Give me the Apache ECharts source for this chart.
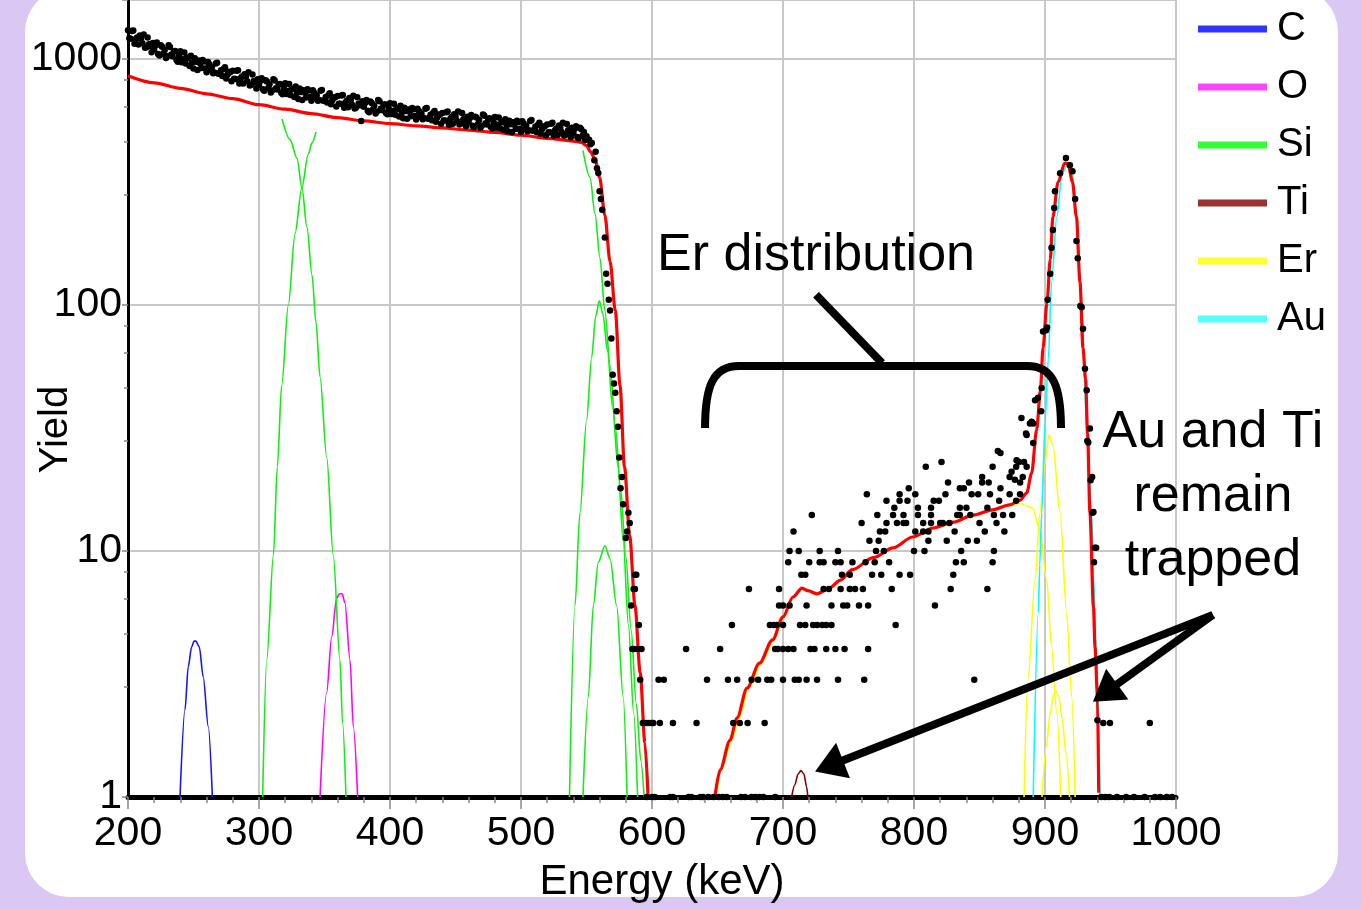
<!DOCTYPE html>
<html>
<head>
<meta charset="utf-8">
<script src="https://cdn.jsdelivr.net/npm/echarts@6/dist/echarts.min.js"></script>
<style>
html,body{margin:0;padding:0;background:#dac7f3;}
#chart{width:1361px;height:909px;}
</style>
</head>
<body>
<div id="chart"></div>
<script>
// ---------------- DATA ----------------
// experimental spectrum, dense part: counts every 2 keV from 200 keV (even channels)
const bulkStartE = 200;
const bulkStepE = 2;
const bulkYield = [
  1310,1209,1306,1206,1144,1214,1258,1116,1148,1066,
  1098,1166,1033,1122,1089,1025,1120,1026,1077,975,
  1076,997,958,1010,1030,915,974,985,919,977,
  884,951,925,882,965,877,852,925,865,884,
  895,829,900,835,795,848,883,786,813,759,
  784,835,743,810,789,745,817,751,792,719,
  797,741,714,755,773,688,735,746,698,745,
  676,730,713,681,748,682,665,725,679,697,
  707,657,714,665,636,679,709,634,658,560,
  639,681,607,662,647,612,673,619,654,596,
  661,615,594,628,645,574,614,624,585,625,
  568,614,600,575,632,577,564,614,578,594,
  603,562,612,570,545,584,612,547,569,533,
  555,592,528,578,565,535,588,542,574,523,
  581,541,523,554,569,508,543,553,519,554,
  505,547,535,513,565,516,504,550,518,532,
  542,504,550,513,491,526,551,493,513,481,
  501,533,476,518,505
];
// odd channels, every 2 keV from 201 keV
const bulkOddStartE = 201;
const bulkYieldOdd = [
  1215,1301,1152,1223,1245,1159,1111,1224,1130,1161,
  1137,1049,1138,1051,1009,1136,1041,1072,990,1030,
  971,1062,1014,936,967,1007,902,961,990,915,
  972,901,876,959,871,900,911,833,887,812,
  832,895,795,848,867,811,781,865,802,828,
  814,753,820,760,731,828,761,787,729,762,
  720,791,757,701,727,759,682,729,754,700,
  746,693,676,743,677,701,712,654,699,641,
  658,710,633,677,694,652,629,699,649,674,
  663,616,671,623,601,682,628,650,603,631,
  597,657,630,584,606,634,571,610,632,587,
  627,583,569,628,572,594,604,556,595,546,
  562,607,541,581,596,561,542,603,562,583,
  576,535,583,543,525,595,548,569,529,554,
  525,578,555,515,536,561,505,541,561,521,
  558,519,508,560,511,531,540,497,532,490,
  504,545,487,522,537,505,488,544,507,526,
  520,482,525,487,469
];
// experimental spectrum, sparse part: [energy keV, counts]
const expPoints = [
  [550,485],[552,470],[553,450],[554,455],[556,388],[557,420],[558,360],[559,344],[560,290],[561,270],
  [562,244],[564,188],[565,134],[566,122],[567,105],[568,95],[569,73],[570,52],[571,48],[572,44],
  [573,37],[574,32],[575,24],[576,18],[577,20],[578,15.5],[580,11.3],[581,12],[582,14.3],[583,13],
  [584,6],[585,4],[586,7],[586,4],[587,7],[587,8],[588,8],[589,4],[590,5],[591,3],[592,4],[593,2],
  [594,2],[596,2],[598,2],[601,2],
  [596,1],[600,1],[602,1],[614,1],[616,1],[628,1],[630,1],[637,1],[639,1],[643,1],[647,1],[651,1],
  [654,1],[657,1],[668,1],[671,1],[676,1],[679,1],[682,1],[685,1],[694,1],
  [943,1],[946,1],[949,1],[955,1],[962,1],[968,1],[976,1],[984,1],[988,1],[993,1],[997,1],
  [600,2],[606,2],[616,2],[634,2],[662,2],[667,2],[673,2],[686,2],[944.5,2],[949.6,2],[980,2],
  [605,3],[609,3],[642,3],[658,3],[665,3],[676,3],[681,3],[688,3],[691,3],[700,3],[709,3],[712,3],
  [718,3],[726,3],[742,3],[762,3],[846,3],
  [626,4],[652,4],[694,4],[696,4],[700,4],[704,4],[708,4],[721,4],[724,4],[733,4],[740,4],[747,4],[765,4],
  [661,5],[690,5],[693,5],[695,5],[700,5],[713,5],[717,5],[723,5],[726,5],[730,5],[733,5],[737,5],[786,5],
  [697,6],[700,6],[705,6],[718,6],[737,6],[746,6],[749,6],[758,6],[765,6],[816,6],
  [674,7],[697,7],[731,7],[735,7],[744,7],[751,7],[755,7],[761,7],[783,7],[828,7],[856,7],
  [714,8],[717,8],[745,8],[751,8],[768,8],[775,8],[789,8],[797,8],[830,8],
  [704,9],[720,9],[728,9],[731,9],[740,9],[744,9],[753,9],[763,9],[770,9],[781,9],[832,9],[838,9],[860,9],
  [705,10],[712,10],[728,10],[742,10],[771,10],[777,10],[800,10],[808,10],[836,10],[861,10],
  [766,11],[773,11],[811,11],[825,11],[841,11],[848,11],
  [708,12],[774,12],[778,12],[801,12],[807,12],[811,12],[831,12],[854,12],[869,12],
  [760,13],[779,13],[787,13],[792,13],[794,13],[807,13],[813,13],[820,13],[822,13],[827,13],[850,13],[863,13],
  [722,14],[772,14],[784,14],[792,14],[803,14],[813,14],[833,14],[835,14],[843,14],[861,14],[868,14],[875,14],
  [785,15],[803,15],[813,15],[835,15],[840,15],[856,15],
  [779,16],[789,16],[795,16],[815,16],[819,16],[865,16],[878,16],
  [764,17],[789,17],[801,17],[824,17],[844,17],[849,17],[858,17],[873,17],[881,17],
  [796,18],[835,18],[838,18],[866,18],
  [826,19],[842,19],[852,19],[857,19],[881,19],
  [852,20],[873,20],[883,20],
  [809,22],[860,22],[878,22],[886,22],
  [821,23],[880,23],[884,23],
  [866,25],[864,25.5],
  [874.5,21],[877,19.5],[878.3,23.4],[882,34.7],[885.5,30],[886,29.6],[888.5,33],[889.8,33.5],
  [891,27.5],[891,33],[892.4,41],[894.7,42],[897,37],[897.4,46],
  [898.5,78],[900.8,79],[901.5,81],[902,105],[904,134],[905,171],[906,202],[907,248],[907.6,290],
  [911.5,343],[916,396],[919,370],[921,350],[923,270],[924,182],[925,155],[927,99],[928,98],[929,80],
  [930.5,55],[931.8,45],[932.3,28],[933,27.6],[934.3,31.5],[934.8,19.4],[936,20],[936.3,14.3],
  [937,14.4],[937.4,9],[938,10.3],[939,10.3],[940,2.05]
];
// simulated total spectrum (red)
const simMatrix = [
  [200,855],[220,800],[240,760],[260,722],[280,690],[300,652],[320,625],[340,600],[360,578],[380,560],
  [400,546],[420,535],[440,525],[460,514],[480,503],[500,490],[520,476],[540,464],[546,458],[550,445],
  [553,420],[556.5,392],[560,330],[564,232],[568,150],[572,95],[575.6,47],[579,22],[583,11.5],
  [587,6],[591,3.2],[594.6,1.66],[597,1]
];
const simErAu = [
  [648,1],[652,1.29],[659.5,1.7],[665,2.1],[672.5,2.77],[682,3.5],[692,4.35],[700,5.4],[707.6,6.5],
  [714.5,7.07],[719,6.9],[726,6.7],[736,7.1],[743.5,7.6],[753,8.4],[769,9.4],[784,10.3],[799,11.4],
  [814.5,12.4],[830,13.1],[845,14],[860,14.7],[873,15.4],[881,16.1],[886,17.2],[889.8,20.7],
  [893.6,31],[896.5,45],[898.5,67],[901.5,102],[904,153],[906,228],[910,316],[915,377],[917.5,376],
  [921,316],[924,228],[926.7,124],[929,67],[931,50],[932.5,30],[934.3,14.3],[937,5.9],[938.2,4.07],
  [940,2.6],[941,1.04]
];
// element contributions
const carbonC = [[239.7,1],[243.5,2.26],[246,3.39],[248.6,4.08],[250.5,4.3],[251.8,4.3],[254.4,4.08],[257.4,3.08],[261.3,1.93],[264.4,1]];
const oxygenO = [[346.6,1],[351.6,2.64],[355.5,4.48],[359.3,6.44],[361.5,6.7],[363.5,6.7],[365.6,6.15],[369.5,3.6],[372,1.93],[375.3,1]];
const siliconRise = [[302.8,1],[305.9,3.6],[311,9.6],[314,22],[317.3,47],[322.4,100],[327.5,195],[332.6,297],[337.6,410],[340.5,456],[343.5,505]];
const siliconFall = [[317.6,570],[323.7,470],[329,395],[332.8,299],[336.6,207],[340.5,132],[343.5,85],[346.6,51],[351.7,24],[356.7,9.6],[361.8,3.6],[363.8,2],[366.4,1]];
const siliconEdge = [[547.3,425],[552.7,330],[556.5,235],[560.3,155],[564,95],[568,57],[572,32],[576,18],[580,9.5],[584,4.8],[588,2.4],[591.5,1.4],[594,1]];
const siliconPeak = [[537,1],[541.2,6],[545,14.3],[550,33.7],[554,61.5],[557,90],[559.8,104],[562.5,92],[566,65],[570,38],[574,22],[578,11],[582,5],[586,2.2],[589,1]];
const siliconSmall = [[547.3,1],[551.4,2.55],[555.2,6],[559,9],[564.1,10.5],[568,9.3],[573,6],[578,2.55],[581,1]];
const titaniumTi = [[706.6,1],[709,1.12],[711.5,1.24],[713.7,1.28],[716,1.24],[718,1.1],[719,1]];
const erbiumDist = [
  [649,1],[653,1.29],[661,1.7],[666.5,2.1],[674,2.77],[683.5,3.5],[693,4.35],[701,5.4],[707.6,6.45],
  [714.5,7.0],[719,6.85],[726,6.65],[736,7.05],[743.5,7.55],[753,8.35],[769,9.35],[784,10.25],
  [799,11.35],[814.5,12.3],[830,13],[845,13.9],[860,14.6],[873,15.3],[881,15.6],[887,15.2],
  [890.6,14.9],[896,12.2],[901.3,7.6],[905,4.07],[909,2.19],[912,1]
];
const erbiumPeak = [[884,1],[887,3],[892.4,7.6],[896.2,14.3],[900,22.7],[903,29.6],[906,27],[911.5,14.3],[916.5,5.6],[920.4,2.55],[923,1]];
const erbiumSmall = [[897.7,1],[901,1.6],[904,2.2],[906.5,2.6],[908.4,2.7],[910.5,2.55],[913,2.1],[916,1.5],[918.7,1]];
const goldAu = [[891,1],[894.9,5.6],[896,8.8],[897.5,14.3],[900,33],[902.5,60],[905,124],[909,228],[913,343],[917,370],[920.6,358],[924,228],[928,102],[932,30],[935.6,14.3],[937,8],[939,4.07],[940.5,2.6],[942,1]];

const yTickValues = [1, 10, 100, 1000];
const yTickLabels = ['1', '10', '100', '1000'];
const legendNames = ['C', 'O', 'Si', 'Ti', 'Er', 'Au'];
const legendColors = ['#3333ff', '#ff44ff', '#33ff33', '#993333', '#ffff33', '#55ffff'];
const lineColors = {C: '#1414ff', O: '#ff00ff', Si: '#11ee11', Ti: '#800000', Er: '#ffff00', Au: '#00ffff'};

// ---------------- CHART ----------------
const FONT = 'Liberation Sans, Arial, Helvetica, sans-serif';
const chart = echarts.init(document.getElementById('chart'), null, {renderer: 'canvas'});

const expData = bulkYield.map((v, i) => [bulkStartE + i * bulkStepE, v])
  .concat(bulkYieldOdd.map((v, i) => [bulkOddStartE + i * bulkStepE, v]))
  .concat(expPoints);

function elemSeries(name, data) {
  return {
    type: 'line', name: name, data: data, symbol: 'none', showSymbol: false,
    smooth: 0.3, smoothMonotone: 'x', animation: false, silent: true, z: 3,
    lineStyle: {color: lineColors[name], width: 1.6},
    itemStyle: {color: lineColors[name]}
  };
}

const option = {
  animation: false,
  backgroundColor: '#dac7f3',
  textStyle: {fontFamily: FONT},
  grid: {left: 128, right: 185, top: 0, bottom: 112, containLabel: false, outerBoundsMode: 'none'},
  legend: {
    orient: 'vertical', left: 1193, top: 2, icon: 'rect',
    itemWidth: 69, itemHeight: 7, itemGap: 14, selectedMode: false,
    textStyle: {fontSize: 40, color: '#000', fontFamily: FONT, lineHeight: 44, padding: [0, 0, 0, 5]},
    data: legendNames.map((n, i) => ({name: n, itemStyle: {color: legendColors[i]}}))
  },
  xAxis: {
    type: 'value', min: 200, max: 1000, interval: 100,
    name: 'Energy (keV)', nameLocation: 'middle', nameGap: 64, nameMoveOverlap: false,
    nameTextStyle: {fontSize: 42, color: '#000', fontFamily: FONT, padding: [0, 0, 0, 20]},
    axisLine: {show: true, onZero: false, lineStyle: {color: '#000', width: 5}},
    axisTick: {show: true, length: 12, lineStyle: {color: '#888', width: 1.5}},
    minorTick: {show: true, splitNumber: 5, length: 6, lineStyle: {color: '#888', width: 1.5}},
    splitLine: {show: true, lineStyle: {color: '#c8c8c8', width: 2}},
    axisLabel: {fontSize: 41, color: '#000', margin: 16, fontFamily: FONT, hideOverlap: false,
      formatter: function (v) { return String(v); }}
  },
  yAxis: {
    type: 'log', logBase: 10, min: 1, max: 1737,
    name: 'Yield', nameLocation: 'middle', nameRotate: 90, nameGap: 52, nameMoveOverlap: false,
    nameTextStyle: {fontSize: 40, color: '#000', fontFamily: FONT, padding: [0, 62, 0, 0]},
    axisLine: {show: true, lineStyle: {color: '#000', width: 3}},
    axisTick: {show: true, length: 6, lineStyle: {color: '#888', width: 1.5}},
    minorTick: {show: true, splitNumber: 5, length: 4, lineStyle: {color: '#888', width: 1.5}},
    splitLine: {show: true, lineStyle: {color: '#c8c8c8', width: 2}},
    axisLabel: {
      fontSize: 41, color: '#000', margin: 6, fontFamily: FONT, showMaxLabel: false,
      formatter: function (v) {
        const i = yTickValues.findIndex(t => Math.abs(t - v) / t < 1e-6);
        return i >= 0 ? yTickLabels[i] : '';
      }
    }
  },
  series: [
    elemSeries('C', carbonC),
    elemSeries('O', oxygenO),
    elemSeries('Si', siliconRise),
    elemSeries('Si', siliconFall),
    elemSeries('Si', siliconPeak),
    elemSeries('Si', siliconSmall),
    elemSeries('Si', siliconEdge),
    elemSeries('Ti', titaniumTi),
    elemSeries('Er', erbiumDist),
    elemSeries('Er', erbiumPeak),
    elemSeries('Er', erbiumSmall),
    {
      type: 'line', name: 'Simulation', data: simMatrix, symbol: 'none', showSymbol: false,
      smooth: 0.3, smoothMonotone: 'x', silent: true, z: 4,
      lineStyle: {color: '#ff0000', width: 3.2}, itemStyle: {color: '#ff0000'}
    },
    {
      type: 'line', name: 'Simulation', data: simErAu, symbol: 'none', showSymbol: false,
      smooth: 0.3, smoothMonotone: 'x', silent: true, z: 4,
      lineStyle: {color: '#ff0000', width: 3.2}, itemStyle: {color: '#ff0000'}
    },
    elemSeries('Au', goldAu),
    {
      type: 'scatter', name: 'Experiment', data: expData, symbol: 'circle', symbolSize: 6.5,
      silent: true, z: 5, large: false, itemStyle: {color: '#000', opacity: 1}
    }
  ]
};
chart.setOption(option);

// ---------------- ANNOTATIONS (anchored in data space) ----------------
const erLabelAt = [725.2, 158];
const bracketLeftFoot = [640.5, 31.6];
const bracketRightFoot = [912.2, 31.6];
const bracketTopYield = 56.5;
const pointerFrom = [725.2, 110];
const pointerTo = [775.6, 58.1];
const arrowTail = [1028.2, 5.5];
const arrowTipTi = [724.5, 1.27];
const arrowTipAu = [936.6, 2.44];
const trappedLabelAt = [1028.2, 16.6];

function P(d) { return chart.convertToPixel({gridIndex: 0}, d); }

function arrow(tail, tip) {
  const dx = tip[0] - tail[0], dy = tip[1] - tail[1];
  const L = Math.hypot(dx, dy), ux = dx / L, uy = dy / L;
  const headLen = 30, half = 19;
  const bx = tip[0] - ux * headLen, by = tip[1] - uy * headLen;
  const nx = -uy, ny = ux;
  return [
    {type: 'line', z: 100, silent: true,
     shape: {x1: tail[0], y1: tail[1], x2: bx + ux * 3, y2: by + uy * 3},
     style: {stroke: '#000', lineWidth: 8}},
    {type: 'polygon', z: 100, silent: true,
     shape: {points: [[tip[0], tip[1]], [bx + nx * half, by + ny * half], [bx - nx * half, by - ny * half]]},
     style: {fill: '#000'}}
  ];
}

const fl = P(bracketLeftFoot), fr = P(bracketRightFoot);
const topY = P([bracketLeftFoot[0], bracketTopYield])[1];
const cw = 34;
const pf = P(pointerFrom), pt = P(pointerTo);
const erL = P(erLabelAt), trL = P(trappedLabelAt);
const tail = P(arrowTail);
const strokeBlack = {stroke: '#000', lineWidth: 8, fill: null};

const graphics = [
  {type: 'rect', z: -100, silent: true, shape: {x: 25, y: -12, width: 1313, height: 909, r: 44}, style: {fill: '#ffffff'}},
  {type: 'bezierCurve', z: 100, silent: true,
   shape: {x1: fl[0], y1: fl[1], cpx1: fl[0], cpy1: topY + 20, cpx2: fl[0] + 8, cpy2: topY, x2: fl[0] + cw, y2: topY},
   style: strokeBlack},
  {type: 'line', z: 100, silent: true, shape: {x1: fl[0] + cw - 1, y1: topY, x2: fr[0] - cw + 1, y2: topY}, style: strokeBlack},
  {type: 'bezierCurve', z: 100, silent: true,
   shape: {x1: fr[0] - cw, y1: topY, cpx1: fr[0] - 8, cpy1: topY, cpx2: fr[0], cpy2: topY + 20, x2: fr[0], y2: fr[1]},
   style: strokeBlack},
  {type: 'line', z: 100, silent: true, shape: {x1: pf[0], y1: pf[1], x2: pt[0], y2: pt[1]}, style: {stroke: '#000', lineWidth: 8}},
  {type: 'text', z: 100, silent: true, x: erL[0], y: erL[1],
   style: {text: 'Er distribution', font: '52px ' + FONT, fill: '#000', align: 'center', verticalAlign: 'middle'}},
  {type: 'text', z: 100, silent: true, x: trL[0], y: trL[1],
   style: {text: 'Au and Ti\nremain\ntrapped', font: '52px ' + FONT, fill: '#000', align: 'center', verticalAlign: 'middle', lineHeight: 64}}
].concat(arrow(tail, P(arrowTipTi))).concat(arrow(tail, P(arrowTipAu)));

chart.setOption({graphic: {elements: graphics}});
</script>
</body>
</html>
